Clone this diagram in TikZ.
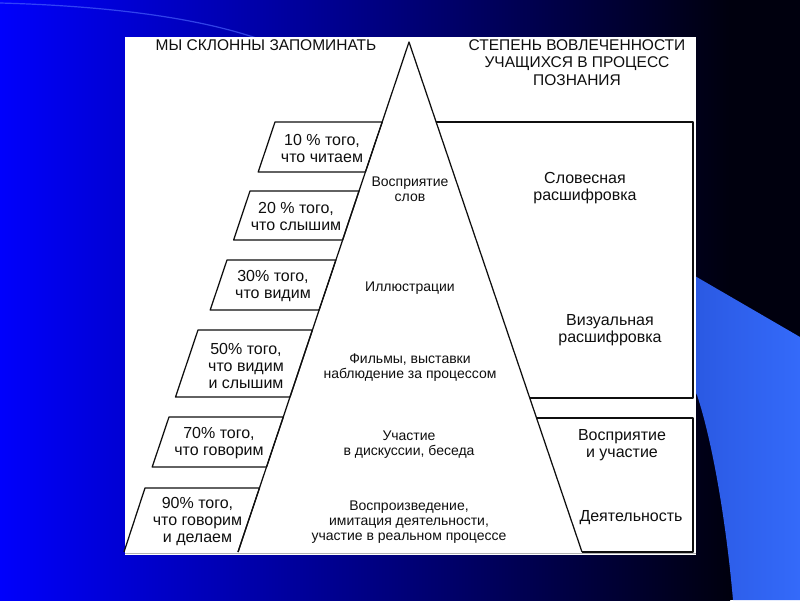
\documentclass[tikz,border=0pt]{standalone}
\usepackage{fontspec}
\setmainfont{Liberation Sans}
\definecolor{bgL}{RGB}{0,0,252}
\definecolor{bgM}{RGB}{0,0,150}
\definecolor{bgR}{RGB}{0,0,14}
\definecolor{shapeL}{RGB}{42,88,225}
\definecolor{shapeR}{RGB}{52,106,250}
\definecolor{arcc}{RGB}{70,95,250}
\definecolor{ink}{RGB}{15,15,15}
\tikzset{
  ln/.style={draw=ink, line width=1.25pt, line join=round},
  boxtxt/.style={align=center, text=ink, font=\fontsize{16}{17}\selectfont, inner sep=0pt},
  pyrtxt/.style={align=center, text=ink, font=\fontsize{14}{15}\selectfont, inner sep=0pt},
  headtxt/.style={align=center, text=ink, font=\fontsize{15.5}{17.5}\selectfont, inner sep=0pt},
}
\begin{document}
\begin{tikzpicture}[x=1pt,y=-1pt]
\useasboundingbox (0,0) rectangle (800,600);
% background
\shade[left color=bgL, middle color=bgM, right color=bgR] (0,0) rectangle (730,600);
\fill[bgR] (729,0) rectangle (800,600);
\draw[arcc, line width=1.2pt, opacity=0.7] (0,3) .. controls (110,6) and (200,18) .. (262,40);
\shade[left color=shapeL, right color=shapeR] (688,272) -- (800,337) -- (800,600) -- (733,600)
  .. controls (726,520) and (712,440) .. (697,395) -- (688,380) -- cycle;
% white sheet
\fill[white] (125,37) rectangle (696,555);
\draw[gray!60, line width=1pt] (125,553.5) -- (696,553.5);
% pyramid
\coordinate (apex) at (409,42);
\coordinate (bl) at (238,552);
\coordinate (br) at (582,552);
\draw[ln] (bl) -- (apex) -- (br);
% left parallelograms
\draw[ln] (275,122) -- (382.2,122) -- (365.4,172) -- (258.2,172) -- cycle;
\draw[ln] (250,191) -- (359.0,191) -- (342.6,240) -- (233.6,240) -- cycle;
\draw[ln] (227,260) -- (335.9,260) -- (319.1,310) -- (210.2,310) -- cycle;
\draw[ln] (198,330) -- (312.4,330) -- (290.0,397) -- (175.5,397) -- cycle;
\draw[ln] (169,417) -- (283.3,417) -- (266.5,467) -- (152.2,467) -- cycle;
\draw[ln] (124,552) -- (145,488) -- (259.5,488) -- (238,552);
% right boxes
\draw[ln] (436.1,122) -- (693,122) -- (693,398) -- (529.7,398);
\draw[ln] (536.5,418) -- (693,418) -- (693,552) -- (582,552);
% headers
\node[headtxt] (h1) at (266,45) {МЫ СКЛОННЫ ЗАПОМИНАТЬ};
\node[headtxt] (h2) at (577,62.5) {СТЕПЕНЬ ВОВЛЕЧЕННОСТИ\\УЧАЩИХСЯ В ПРОЦЕСС\\ПОЗНАНИЯ};
% left texts
\node[boxtxt] (l1) at (322,148.5) {10 \% того,\\что читаем};
\node[boxtxt] (l2) at (296,216.5) {20 \% того,\\что слышим};
\node[boxtxt] (l3) at (273,286.5) {30\% того,\\что видим};
\node[boxtxt] (l4) at (246,366) {50\% того,\\что видим\\и слышим};
\node[boxtxt] (l5) at (219,443.5) {70\% того,\\что говорим};
\node[boxtxt] (l6) at (197.5,521) {90\% того,\\что говорим\\и делаем};
% pyramid texts
\node[pyrtxt] (p1) at (410,189.5) {Восприятие\\слов};
\node[pyrtxt] (p2) at (410,288) {Иллюстрации};
\node[pyrtxt] (p3) at (410,367.5) {Фильмы, выставки\\наблюдение за процессом};
\node[pyrtxt] (p4) at (409,445) {Участие\\в дискуссии, беседа};
\node[pyrtxt] (p5) at (409,522) {Воспроизведение,\\имитация деятельности,\\участие в реальном процессе};
% right texts
\node[boxtxt] (r1) at (585,188.5) {Словесная\\расшифровка};
\node[boxtxt] (r2) at (610,330) {Визуальная\\расшифровка};
\node[boxtxt] (r3) at (622,445) {Восприятие\\и участие};
\node[boxtxt] (r4) at (631,518) {Деятельность};
\end{tikzpicture}
\end{document}
